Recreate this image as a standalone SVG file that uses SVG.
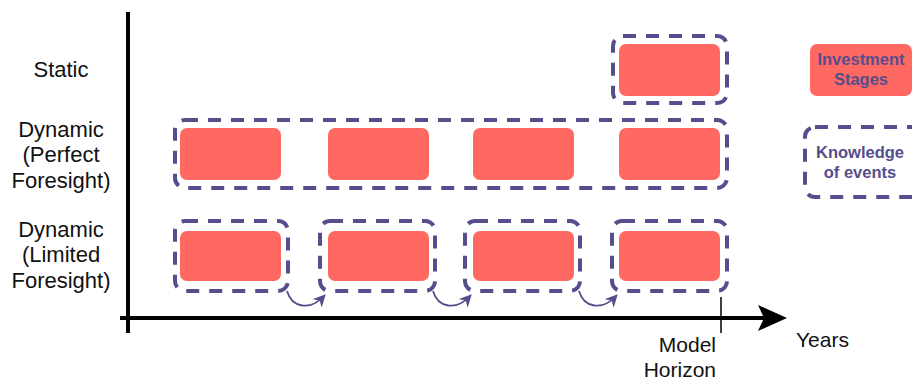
<svg xmlns="http://www.w3.org/2000/svg" width="912" height="384" viewBox="0 0 912 384">
  <style>
    .lbl { font-family: "Liberation Sans", Arial, sans-serif; font-size: 22px; fill: #111; text-anchor: middle; }
    .axlbl { font-family: "Liberation Sans", Arial, sans-serif; font-size: 21px; fill: #111; }
    .leg { font-family: "Liberation Sans", Arial, sans-serif; font-size: 16.5px; font-weight: bold; fill: #564d8d; text-anchor: middle; }
    .stage { fill: #ff6961; }
    .know { fill: none; stroke: #564d8d; stroke-width: 4; stroke-dasharray: 13 10; }
    .hop { fill: none; stroke: #564d8d; stroke-width: 1.8; }
    .axis { stroke: #000; stroke-width: 4; fill: none; }
  </style>
  <defs>
    <marker id="hopHead" viewBox="0 0 10 10" refX="8" refY="5" markerWidth="7" markerHeight="7" orient="auto">
      <path d="M0,0 L10,5 L0,10 L3,5 Z" fill="#564d8d"/>
    </marker>
  </defs>
  <rect width="912" height="384" fill="#fff"/>

  <!-- axes -->
  <g id="axes">
    <line class="axis" x1="128" y1="12" x2="128" y2="333"/>
    <line class="axis" x1="120" y1="318" x2="765" y2="318"/>
    <path d="M787,318 L758,305 L764,318 L758,331 Z" fill="#000"/>
    <line x1="721" y1="297" x2="721" y2="333" stroke="#000" stroke-width="1.5"/>
    <text class="axlbl" x="716" y="352" text-anchor="end">Model</text>
    <text class="axlbl" x="716" y="377" text-anchor="end">Horizon</text>
    <text class="axlbl" x="796" y="347" font-size="20">Years</text>
  </g>

  <!-- row labels -->
  <g id="row-labels">
    <text class="lbl" x="61" y="77">Static</text>
    <text class="lbl" x="61" y="137">Dynamic</text>
    <text class="lbl" x="61" y="162">(Perfect</text>
    <text class="lbl" x="61" y="188">Foresight)</text>
    <text class="lbl" x="61" y="237">Dynamic</text>
    <text class="lbl" x="61" y="262">(Limited</text>
    <text class="lbl" x="61" y="288">Foresight)</text>
  </g>

  <!-- static row -->
  <g id="static">
    <rect class="know" x="613" y="36" width="114" height="67" rx="10"/>
    <rect class="stage" x="619" y="44" width="101" height="52" rx="7"/>
  </g>

  <!-- perfect foresight row -->
  <g id="perfect">
    <rect class="know" x="175" y="120" width="552" height="68" rx="10"/>
    <rect class="stage" x="180" y="128" width="101" height="52" rx="7"/>
    <rect class="stage" x="328" y="128" width="101" height="52" rx="7"/>
    <rect class="stage" x="473" y="128" width="101" height="52" rx="7"/>
    <rect class="stage" x="619" y="128" width="101" height="52" rx="7"/>
  </g>

  <!-- limited foresight row -->
  <g id="limited-1">
    <rect class="know" x="175" y="221" width="113" height="70" rx="10"/>
    <rect class="stage" x="180" y="231" width="101" height="50" rx="7"/>
  </g>
  <g id="limited-2">
    <rect class="know" x="320" y="221" width="115" height="70" rx="10"/>
    <rect class="stage" x="328" y="231" width="101" height="50" rx="7"/>
  </g>
  <g id="limited-3">
    <rect class="know" x="465" y="221" width="115" height="70" rx="10"/>
    <rect class="stage" x="473" y="231" width="101" height="50" rx="7"/>
  </g>
  <g id="limited-4">
    <rect class="know" x="612" y="221" width="115" height="70" rx="10"/>
    <rect class="stage" x="619" y="231" width="101" height="50" rx="7"/>
  </g>

  <!-- rolling-horizon hops -->
  <g id="connectors">
    <path class="hop" d="M287,291 C292,308 310,311 324,296" marker-end="url(#hopHead)"/>
    <path class="hop" d="M433,291 C438,308 456,311 470,296" marker-end="url(#hopHead)"/>
    <path class="hop" d="M579,291 C584,308 602,311 616,296" marker-end="url(#hopHead)"/>
  </g>

  <!-- legend -->
  <g id="legend-stage">
    <rect class="stage" x="810" y="44" width="102" height="52" rx="7"/>
    <text class="leg" x="861" y="65">Investment</text>
    <text class="leg" x="861" y="85">Stages</text>
  </g>
  <g id="legend-knowledge">
    <rect class="know" x="805" y="127" width="120" height="70" rx="10"/>
    <text class="leg" x="860" y="158">Knowledge</text>
    <text class="leg" x="860" y="178">of events</text>
  </g>
</svg>
